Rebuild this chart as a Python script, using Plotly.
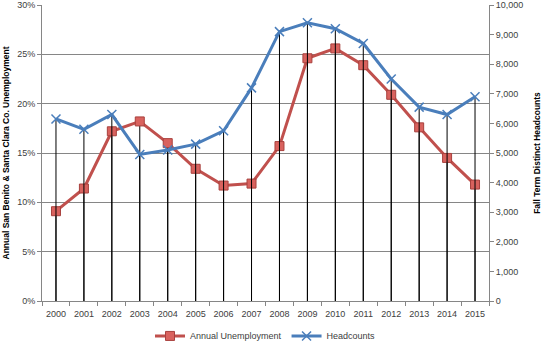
import plotly.graph_objects as go

years = [str(y) for y in range(2000, 2016)]
unemployment = [9.1, 11.4, 17.2, 18.2, 16.0, 13.4, 11.7, 11.9, 15.7, 24.6, 25.6, 23.9, 20.9, 17.6, 14.5, 11.8]
headcounts = [6150, 5800, 6300, 4950, 5100, 5300, 5750, 7200, 9100, 9400, 9200, 8700, 7500, 6550, 6300, 6900]

def drop_segments(xs, ys):
    dx, dy = [], []
    for x, y in zip(xs, ys):
        dx += [x, x, None]
        dy += [0, y, None]
    return dx, dy

fig = go.Figure()

rx, ry = drop_segments(years, unemployment)
bx, by = drop_segments(years, headcounts)
fig.add_trace(go.Scatter(x=rx, y=ry, mode="lines", line=dict(color="black", width=1),
                         showlegend=False, hoverinfo="skip", yaxis="y"))
fig.add_trace(go.Scatter(x=bx, y=by, mode="lines", line=dict(color="black", width=1),
                         showlegend=False, hoverinfo="skip", yaxis="y2"))

fig.add_trace(go.Scatter(
    x=years, y=unemployment, name="Annual Unemployment", yaxis="y",
    mode="lines+markers",
    line=dict(color="#C0504D", width=3),
    marker=dict(symbol="square", size=9, color="#D9625E", line=dict(color="#A8403D", width=1)),
))
fig.add_trace(go.Scatter(
    x=years, y=headcounts, name="Headcounts", yaxis="y2",
    mode="lines+markers",
    line=dict(color="#4A7EBB", width=3),
    marker=dict(symbol="x-thin-open", size=9, line=dict(color="#8FB1DC", width=1.5)),
))

font_family = "Liberation Sans"
fig.update_layout(
    width=542, height=344,
    margin=dict(l=42, r=53, t=5, b=43, autoexpand=False),
    paper_bgcolor="white", plot_bgcolor="white",
    font=dict(family=font_family, size=9, color="#404040"),
    xaxis=dict(
        type="category", range=[-0.5, 15.5], showgrid=False,
        showline=True, linecolor="#868686", linewidth=1,
        ticks="outside", tickson="boundaries", ticklen=4, tickcolor="#868686",
        tickangle=0, ticklabelstandoff=4,
        tickfont=dict(size=9, color="#404040"),
    ),
    yaxis=dict(
        range=[0, 30], dtick=5, ticksuffix="%",
        showgrid=True, gridcolor="#868686", gridwidth=1,
        showline=True, linecolor="#868686", linewidth=1,
        ticks="outside", ticklen=4, tickcolor="#868686",
        zeroline=False,
        tickfont=dict(size=9, color="#404040"),
        title=dict(text="<b>Annual San Benito & Santa Clara Co. Unemployment</b>",
                   font=dict(size=8.5, color="black"), standoff=6),
    ),
    yaxis2=dict(
        range=[0, 10000], dtick=1000, tickformat=",",
        overlaying="y", side="right", showgrid=False,
        showline=True, linecolor="#868686", linewidth=1,
        ticks="outside", ticklen=4, tickcolor="#868686",
        zeroline=False,
        tickfont=dict(size=9, color="#404040"),
        title=dict(text="<b>Fall Term Distinct Headcounts</b>",
                   font=dict(size=8.5, color="black"), standoff=11),
    ),
    legend=dict(orientation="h", x=0.5, xanchor="center", y=-0.118, yanchor="middle",
                font=dict(size=9, color="#404040"), bgcolor="rgba(0,0,0,0)",
                itemsizing="trace"),
)

fig.write_html("out.html")
